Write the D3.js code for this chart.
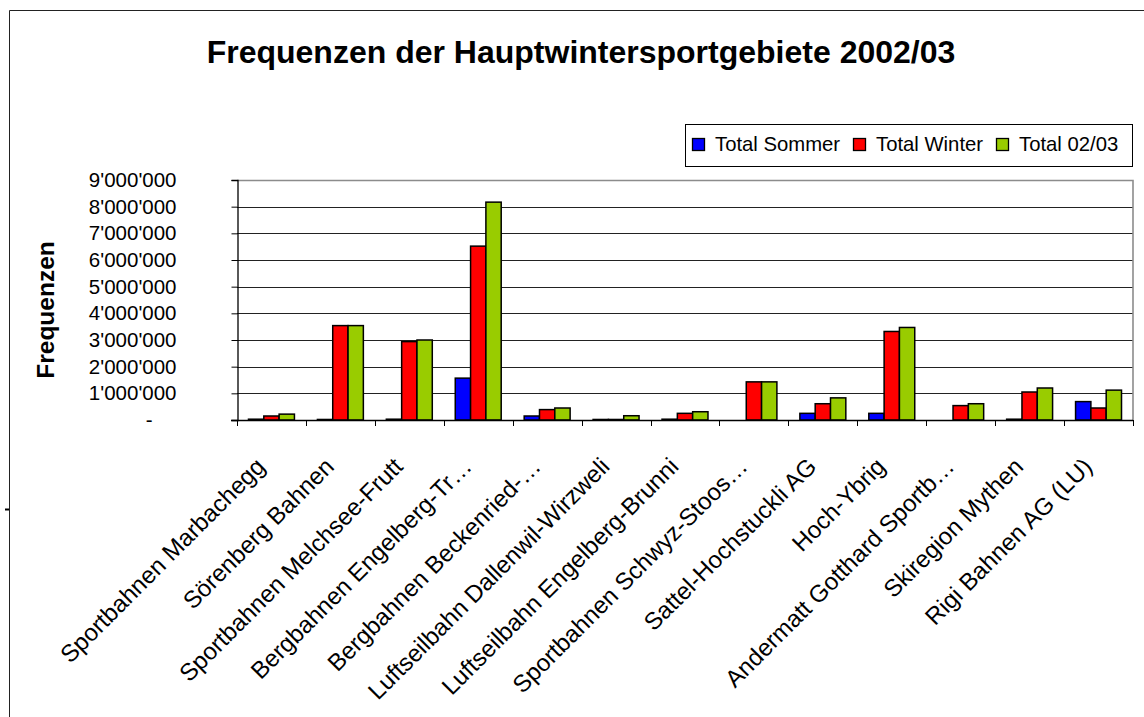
<!DOCTYPE html>
<html>
<head>
<meta charset="utf-8">
<script src="https://cdn.jsdelivr.net/npm/d3@7"></script>
<style>
  body { margin: 0; background: #fff; }
  text { font-family: "Liberation Sans", Arial, sans-serif; fill: #000; }
</style>
</head>
<body>
<script>
// Data
//= ================================
var categories = [
  "Sportbahnen Marbachegg",
  "Sörenberg Bahnen",
  "Sportbahnen Melchsee-Frutt",
  "Bergbahnen Engelberg-Tr…",
  "Bergbahnen Beckenried-…",
  "Luftseilbahn Dallenwil-Wirzweli",
  "Luftseilbahn Engelberg-Brunni",
  "Sportbahnen Schwyz-Stoos…",
  "Sattel-Hochstuckli AG",
  "Hoch-Ybrig",
  "Andermatt Gotthard Sportb…",
  "Skiregion Mythen",
  "Rigi Bahnen AG (LU)"
];

var seriesNames = ["Total Sommer", "Total Winter", "Total 02/03"];
var seriesColors = ["#0000ff", "#ff0000", "#99cc00"];

var totalSommer = [30000, 20000, 30000, 1570000, 150000, 20000, 30000, 0, 250000, 250000, 0, 30000, 690000];
var totalWinter = [150000, 3540000, 2940000, 6520000, 390000, 20000, 250000, 1430000, 610000, 3320000, 540000, 1050000, 450000];
var total0203   = [220000, 3540000, 3000000, 8170000, 450000, 160000, 310000, 1430000, 830000, 3470000, 610000, 1200000, 1120000];

var yTicks = [0, 1000000, 2000000, 3000000, 4000000, 5000000, 6000000, 7000000, 8000000, 9000000];

// Step 1: Set up the chart
//= ================================
var svgWidth = 1144;
var svgHeight = 717;

var plot = { left: 237, right: 1133, top: 180, bottom: 420 };

var svg = d3.select("body")
  .append("svg")
  .attr("width", svgWidth)
  .attr("height", svgHeight);

svg.append("rect")
  .attr("width", svgWidth)
  .attr("height", svgHeight)
  .attr("fill", "#fff");

// outer chart frame (only top and left show in the window)
svg.append("path")
  .attr("d", "M9.5,717V10.5H1144")
  .attr("fill", "none")
  .attr("stroke", "#222")
  .attr("stroke-width", 1);

svg.append("line")
  .attr("x1", 5).attr("x2", 9)
  .attr("y1", 509.5).attr("y2", 509.5)
  .attr("stroke", "#000")
  .attr("stroke-width", 2);

// Title
svg.append("text")
  .attr("x", 581)
  .attr("y", 63)
  .attr("text-anchor", "middle")
  .style("font-size", "32px")
  .style("font-weight", "bold")
  .text("Frequenzen der Hauptwintersportgebiete 2002/03");

// Step 2: Scales
//= ================================
var x0 = d3.scaleBand()
  .domain(categories)
  .range([plot.left, plot.right])
  .paddingInner(1 / 3)
  .paddingOuter(1 / 6);

var x1 = d3.scaleBand()
  .domain(seriesNames)
  .range([0, x0.bandwidth()]);

var y = d3.scaleLinear()
  .domain([0, 9000000])
  .range([plot.bottom, plot.top]);

var locale = d3.formatLocale({ decimal: ".", thousands: "'", grouping: [3], currency: ["", ""] });
var fmt = locale.format(",d");

// Step 3: Gridlines and plot border
//= ================================
svg.append("g")
  .selectAll("line")
  .data(yTicks.slice(1, -1))
  .enter()
  .append("line")
  .attr("x1", plot.left)
  .attr("x2", plot.right)
  .attr("y1", d => Math.round(y(d)) + 0.5)
  .attr("y2", d => Math.round(y(d)) + 0.5)
  .attr("stroke", "#222")
  .attr("stroke-width", 1);

svg.append("path")
  .attr("d", `M${plot.left},${plot.top + 0.5}H${plot.right}V${plot.bottom}`)
  .attr("fill", "none")
  .attr("stroke", "#8c8c8c")
  .attr("stroke-width", 1.6);

// Step 4: Bars
//= ================================
var rows = categories.map(function(c, i) {
  return { name: c, values: [totalSommer[i], totalWinter[i], total0203[i]] };
});

var groups = svg.append("g")
  .selectAll("g")
  .data(rows)
  .enter()
  .append("g")
  .attr("transform", d => `translate(${x0(d.name)},0)`);

groups.selectAll("rect")
  .data(d => d.values.map((v, j) => ({ key: seriesNames[j], value: v, color: seriesColors[j] })))
  .enter()
  .filter(d => d.value > 0)
  .append("rect")
  .attr("x", d => x1(d.key))
  .attr("y", d => y(d.value))
  .attr("width", x1.bandwidth())
  .attr("height", d => y(0) - y(d.value))
  .attr("fill", d => d.color)
  .attr("stroke", "#000")
  .attr("stroke-width", 1.5);

// Step 5: Axes
//= ================================
var leftAxis = d3.axisLeft(y)
  .tickValues(yTicks)
  .tickSize(6)
  .tickFormat(d => d === 0 ? "-" : fmt(d));

var yAxisG = svg.append("g")
  .attr("transform", `translate(${plot.left + 0.5},0)`)
  .call(leftAxis);

yAxisG.select(".domain").attr("stroke", "#000").attr("stroke-width", 1.3);
yAxisG.selectAll(".tick line").attr("stroke", "#000");
yAxisG.selectAll(".tick text")
  .attr("x", d => d === 0 ? -85 : -61)
  .style("font-family", "'Liberation Sans', Arial, sans-serif")
  .style("font-size", "20.5px")
  .attr("fill", "#000");

// x axis: ticks between categories
var bounds = categories.map(c => x0(c) - x0.step() * x0.paddingInner() / 2);
bounds.push(plot.right);

svg.append("line")
  .attr("x1", plot.left - 6)
  .attr("x2", plot.right)
  .attr("y1", plot.bottom + 0.5)
  .attr("y2", plot.bottom + 0.5)
  .attr("stroke", "#000")
  .attr("stroke-width", 1.3);

svg.append("g")
  .selectAll("line")
  .data(bounds)
  .enter()
  .append("line")
  .attr("x1", d => Math.round(d) + 0.5)
  .attr("x2", d => Math.round(d) + 0.5)
  .attr("y1", plot.bottom)
  .attr("y2", plot.bottom + 6)
  .attr("stroke", "#000");

svg.append("g")
  .selectAll("text")
  .data(categories)
  .enter()
  .append("text")
  .attr("transform", d => `translate(${x0(d) + x0.bandwidth() / 2 - 5},468) rotate(-45)`)
  .attr("text-anchor", "end")
  .style("font-size", "24px")
  .text(d => d);

// y axis title
svg.append("text")
  .attr("transform", "translate(54,310) rotate(-90)")
  .attr("text-anchor", "middle")
  .style("font-size", "24.5px")
  .style("font-weight", "bold")
  .text("Frequenzen");

// Step 6: Legend
//= ================================
var legend = svg.append("g");

legend.append("rect")
  .attr("x", 685.5)
  .attr("y", 124.5)
  .attr("width", 447)
  .attr("height", 42)
  .attr("fill", "#fff")
  .attr("stroke", "#000")
  .attr("stroke-width", 1);

var legendX = [692, 853, 996];

var items = legend.selectAll("g.item")
  .data(seriesNames)
  .enter()
  .append("g")
  .attr("class", "item")
  .attr("transform", (d, i) => `translate(${legendX[i]},0)`);

items.append("rect")
  .attr("x", 0.5)
  .attr("y", 138.5)
  .attr("width", 12)
  .attr("height", 12)
  .attr("fill", (d, i) => seriesColors[i])
  .attr("stroke", "#000")
  .attr("stroke-width", 1.3);

items.append("text")
  .attr("x", 23)
  .attr("y", 151)
  .style("font-size", "20.3px")
  .text(d => d);
</script>
</body>
</html>
